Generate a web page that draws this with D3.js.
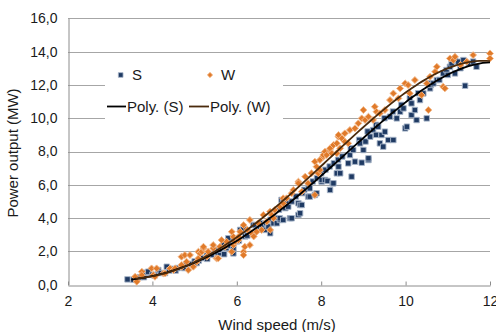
<!DOCTYPE html>
<html>
<head>
<meta charset="utf-8">
<script src="https://cdnjs.cloudflare.com/ajax/libs/d3/7.8.5/d3.min.js"></script>
<style>
  body { margin: 0; background: #fff; }
  svg { display: block; font-family: "Liberation Sans", Arial, sans-serif; }
</style>
</head>
<body>
<div id="chart"></div>
<script>
// series S (wind speed m/s, power MW)
const sSpeed = [3.41,3.55,3.7,3.8,3.86,3.9,4.0,4.05,4.14,4.2,4.3,4.34,4.4,4.5,4.55,4.6,4.7,4.75,4.8,4.9,5.0,5.05,5.1,5.2,5.29,5.3,5.4,5.48,5.55,5.6,
  5.6,5.68,5.7,5.75,5.8,5.8,5.92,5.92,5.93,6.0,6.05,6.08,6.16,6.16,6.2,6.25,6.39,6.4,6.43,6.5,6.55,6.55,6.6,6.67,6.7,6.75,6.79,6.8,6.87,6.9,
  6.95,7.0,7.02,7.02,7.06,7.1,7.1,7.15,7.2,7.22,7.26,7.3,7.3,7.4,7.46,7.46,7.5,7.5,7.54,7.55,7.6,7.69,7.7,7.73,7.73,7.8,7.85,7.89,7.9,8.0,
  8.01,8.01,8.09,8.1,8.15,8.2,8.21,8.27,8.29,8.3,8.37,8.4,8.41,8.45,8.5,8.64,8.68,8.7,8.72,8.76,8.8,8.9,8.92,8.96,9.0,9.05,9.1,9.12,9.12,9.16,
  9.23,9.3,9.3,9.35,9.39,9.43,9.47,9.5,9.51,9.59,9.63,9.7,9.71,9.79,9.87,9.9,9.95,9.99,10.03,10.1,10.14,10.14,10.22,10.26,10.3,10.34,10.42,10.5,10.54,10.58,
  10.6,10.66,10.74,10.8,10.89,10.97,11.0,11.05,11.09,11.17,11.17,11.25,11.3,11.37,11.41,11.5,11.6,11.68];
const sPower = [0.32,0.3,0.45,0.45,0.72,0.78,0.6,0.55,0.88,0.7,0.7,1.08,0.85,0.95,0.85,1.0,1.1,1.0,1.2,1.25,1.4,1.3,1.45,1.6,1.74,1.55,1.8,2.09,1.9,1.9,
  2.1,2.49,1.83,2.2,2.79,2.35,1.88,2.19,2.7,2.6,2.65,3.29,3.24,3.39,2.9,2.95,3.59,3.1,3.58,3.3,3.49,3.69,3.5,3.29,3.7,3.49,3.09,3.9,3.69,4.0,
  3.69,4.5,3.89,3.99,5.09,3.89,4.99,4.6,4.9,4.69,3.99,3.99,5.0,5.3,4.19,4.89,4.29,4.79,4.79,5.5,5.7,5.29,5.9,5.29,5.79,6.2,5.39,5.49,6.4,6.7,
  6.19,6.29,6.29,6.9,6.23,7.1,5.69,6.09,6.09,7.3,6.69,7.5,7.09,6.69,7.7,7.29,7.79,8.2,6.49,8.09,7.39,8.7,8.49,7.33,8.09,8.6,9.2,7.49,7.59,8.89,
  9.29,9.0,9.6,9.49,8.49,8.99,8.29,10.0,9.19,8.69,10.09,10.4,8.69,9.99,10.39,10.8,10.59,9.39,9.49,11.2,10.89,10.19,10.49,9.89,11.5,11.09,11.49,9.99,12.09,11.79,
  12.0,12.09,12.29,12.3,12.69,12.89,12.6,13.09,13.29,12.69,13.49,13.39,13.0,13.49,11.95,13.3,13.4,13.09];

// series W
const wSpeed = [3.59,3.63,3.63,3.75,3.75,3.98,4.02,4.06,4.1,4.26,4.3,4.42,4.5,4.54,4.69,4.69,4.69,4.77,4.81,4.85,4.89,4.97,5.05,5.09,5.09,5.13,5.17,5.21,5.21,5.29,
  5.32,5.44,5.44,5.52,5.56,5.6,5.64,5.72,5.76,5.88,5.88,5.92,5.92,5.96,6.04,6.04,6.08,6.16,6.16,6.16,6.19,6.25,6.31,6.31,6.35,6.4,6.47,6.51,6.59,6.63,
  6.71,6.79,6.79,6.83,6.87,6.9,7.02,7.1,7.1,7.18,7.3,7.34,7.46,7.46,7.54,7.62,7.69,7.77,7.85,7.85,7.89,7.93,7.97,7.97,8.05,8.05,8.09,8.13,8.21,8.21,
  8.25,8.29,8.37,8.37,8.41,8.41,8.45,8.49,8.56,8.56,8.64,8.68,8.8,8.88,8.96,9.0,9.04,9.12,9.23,9.27,9.31,9.39,9.51,9.63,9.71,9.83,9.87,9.99,10.06,10.1,
  10.22,10.38,10.5,10.54,10.58,10.7,10.74,10.89,10.93,11.05,11.13,11.17,11.3,11.45,11.6,12.0,12.0];
const wPower = [0.48,0.24,0.18,0.78,0.58,0.98,0.58,0.48,0.98,0.68,0.68,0.98,0.88,0.98,1.08,1.18,1.68,1.78,1.38,0.88,1.78,1.08,1.38,1.58,1.98,1.88,1.98,2.19,2.28,1.68,
  1.98,2.19,2.38,1.58,1.58,2.28,2.68,2.28,2.58,3.18,1.98,2.38,2.88,2.58,2.68,2.88,3.18,3.58,1.98,1.78,2.28,3.3,2.38,3.89,3.09,2.9,3.18,3.69,3.29,4.19,
  3.79,4.39,3.29,4.19,3.99,4.49,4.69,4.89,5.19,5.19,5.49,5.69,6.19,6.09,5.59,6.49,6.09,6.69,7.39,5.39,7.09,6.69,6.89,7.49,7.69,7.79,7.99,7.79,8.09,8.19,
  7.89,8.39,7.89,8.49,8.89,8.99,8.19,8.79,9.09,8.59,8.49,9.29,9.39,9.69,9.99,10.49,9.89,10.09,9.89,10.69,10.39,10.29,10.49,11.09,11.49,11.19,11.79,12.09,11.99,11.49,
  12.29,11.39,12.09,10.49,12.49,12.79,13.09,11.89,11.79,13.59,13.49,13.69,13.2,13.4,13.79,13.89,13.59];

// polynomial trend lines
const sTrendSpeed = [3.5, 4, 5, 6, 7, 8, 9, 10, 11, 12];
const sTrendPower = [0.28, 0.53, 1.38, 2.65, 4.3, 6.55, 8.9, 11.0, 12.5, 13.4];
const wTrendSpeed = [3.6, 4, 5, 6, 7, 8, 9, 10, 11, 12];
const wTrendPower = [0.3, 0.58, 1.45, 2.8, 4.7, 7.1, 9.65, 11.6, 12.8, 13.5];

const xTicks = [2, 4, 6, 8, 10, 12];
const yTicks = [0, 2, 4, 6, 8, 10, 12, 14, 16];
const trendOrder = 4;

const W = 496, H = 332;
const svg = d3.select('#chart').append('svg').attr('width', W).attr('height', H);

const x = d3.scaleLinear().domain([2, 12]).range([68, 490]);
const y = d3.scaleLinear().domain([0, 16]).range([284.7, 18.3]);

const comma = d3.formatLocale({ decimal: ',', thousands: '.', grouping: [3], currency: ['', ''] }).format('.1f');

// gridlines
svg.append('g')
  .selectAll('line')
  .data(yTicks.filter(d => d > 0))
  .join('line')
  .attr('x1', x(2)).attr('x2', x(12))
  .attr('y1', d => Math.round(y(d)) + 0.5).attr('y2', d => Math.round(y(d)) + 0.5)
  .attr('stroke', '#a6a6a6');

// y axis
const yAxis = svg.append('g')
  .attr('transform', `translate(${Math.round(x(2)) + 0.5},0)`)
  .call(d3.axisLeft(y).tickValues(yTicks).tickSize(0).tickPadding(11).tickFormat(comma));
yAxis.select('.domain').attr('stroke', '#8c8c8c');
yAxis.selectAll('text').attr('font-size', 14).attr('fill', '#1a1a1a').attr('font-family', null);

// x axis
const xAxis = svg.append('g')
  .attr('transform', `translate(0,${Math.round(y(0)) + 0.5})`)
  .call(d3.axisBottom(x).tickValues(xTicks).tickSizeInner(-4).tickSizeOuter(0).tickPadding(11));
xAxis.select('.domain').attr('stroke', '#8c8c8c');
xAxis.selectAll('.tick line').attr('stroke', '#8c8c8c');
xAxis.selectAll('text').attr('font-size', 14).attr('fill', '#1a1a1a').attr('font-family', null);

// titles
svg.append('text')
  .attr('x', 277).attr('y', 330)
  .attr('text-anchor', 'middle').attr('font-size', 15).attr('fill', '#1a1a1a')
  .text('Wind speed (m/s)');
svg.append('text')
  .attr('transform', 'translate(18,153) rotate(-90)')
  .attr('text-anchor', 'middle').attr('font-size', 15).attr('fill', '#1a1a1a')
  .text('Power output (MW)');

// least squares polynomial, x centred for stability
function polyfit(xs, ys, order, x0) {
  const n = order + 1;
  const A = Array.from({ length: n }, () => new Array(n + 1).fill(0));
  xs.forEach((xv, k) => {
    const t = xv - x0;
    for (let i = 0; i < n; i++) {
      for (let j = 0; j < n; j++) A[i][j] += Math.pow(t, i + j);
      A[i][n] += ys[k] * Math.pow(t, i);
    }
  });
  for (let i = 0; i < n; i++) {
    let p = i;
    for (let r = i + 1; r < n; r++) if (Math.abs(A[r][i]) > Math.abs(A[p][i])) p = r;
    [A[i], A[p]] = [A[p], A[i]];
    for (let r = 0; r < n; r++) {
      if (r === i) continue;
      const f = A[r][i] / A[i][i];
      for (let c = i; c <= n; c++) A[r][c] -= f * A[i][c];
    }
  }
  const c = A.map((row, i) => row[n] / row[i]);
  return xv => c.reduce((s, ci, i) => s + ci * Math.pow(xv - x0, i), 0);
}

const sPts = sSpeed.map((v, i) => ({ x: v, y: sPower[i] }));
const wPts = wSpeed.map((v, i) => ({ x: v, y: wPower[i] }));

const plot = svg.append('g');

plot.selectAll('.s')
  .data(sPts).join('path')
  .attr('class', 's')
  .attr('transform', d => `translate(${x(d.x)},${y(d.y)})`)
  .attr('d', d3.symbol(d3.symbolSquare, 30))
  .attr('fill', '#1f3a63')
  .attr('stroke', '#a9b7ca').attr('stroke-width', 0.9);

plot.selectAll('.w')
  .data(wPts).join('path')
  .attr('class', 'w')
  .attr('transform', d => `translate(${x(d.x)},${y(d.y)}) rotate(45)`)
  .attr('d', d3.symbol(d3.symbolSquare, 24))
  .attr('fill', '#e07a2a')
  .attr('stroke', '#f2b98a').attr('stroke-width', 0.9);

const line = d3.line().x(d => x(d[0])).y(d => y(d[1]));
function trend(xs, ys, color) {
  const f = polyfit(xs, ys, trendOrder, d3.mean(xs));
  const x0 = d3.min(xs), x1 = d3.max(xs);
  const pts = d3.range(0, 101).map(i => {
    const xv = x0 + (x1 - x0) * i / 100;
    return [xv, f(xv)];
  });
  plot.append('path')
    .attr('d', line(pts))
    .attr('fill', 'none')
    .attr('stroke', color)
    .attr('stroke-width', 1.8);
}
trend(sTrendSpeed, sTrendPower, '#000000');
trend(wTrendSpeed, wTrendPower, '#4a2a0c');

// legend
const lg = svg.append('g');
lg.append('rect').attr('x', 105).attr('y', 57).attr('width', 178).attr('height', 84).attr('fill', '#fff');
lg.append('path')
  .attr('transform', 'translate(120.7,75)')
  .attr('d', d3.symbol(d3.symbolSquare, 22))
  .attr('fill', '#1f3a63').attr('stroke', '#a9b7ca').attr('stroke-width', 0.8);
lg.append('text').attr('x', 132).attr('y', 80).attr('font-size', 15).attr('fill', '#1a1a1a').text('S');
lg.append('path')
  .attr('transform', 'translate(210,75) rotate(45)')
  .attr('d', d3.symbol(d3.symbolSquare, 14))
  .attr('fill', '#e07a2a').attr('stroke', '#f2b98a').attr('stroke-width', 0.8);
lg.append('text').attr('x', 221).attr('y', 80).attr('font-size', 15).attr('fill', '#1a1a1a').text('W');
lg.append('line').attr('x1', 107).attr('x2', 126).attr('y1', 106.5).attr('y2', 106.5).attr('stroke', '#000').attr('stroke-width', 1.8);
lg.append('text').attr('x', 127).attr('y', 112).attr('font-size', 15).attr('fill', '#1a1a1a').text('Poly. (S)');
lg.append('line').attr('x1', 189).attr('x2', 209).attr('y1', 106.5).attr('y2', 106.5).attr('stroke', '#4a2a0c').attr('stroke-width', 1.8);
lg.append('text').attr('x', 210).attr('y', 112).attr('font-size', 15).attr('fill', '#1a1a1a').text('Poly. (W)');
</script>
</body>
</html>
